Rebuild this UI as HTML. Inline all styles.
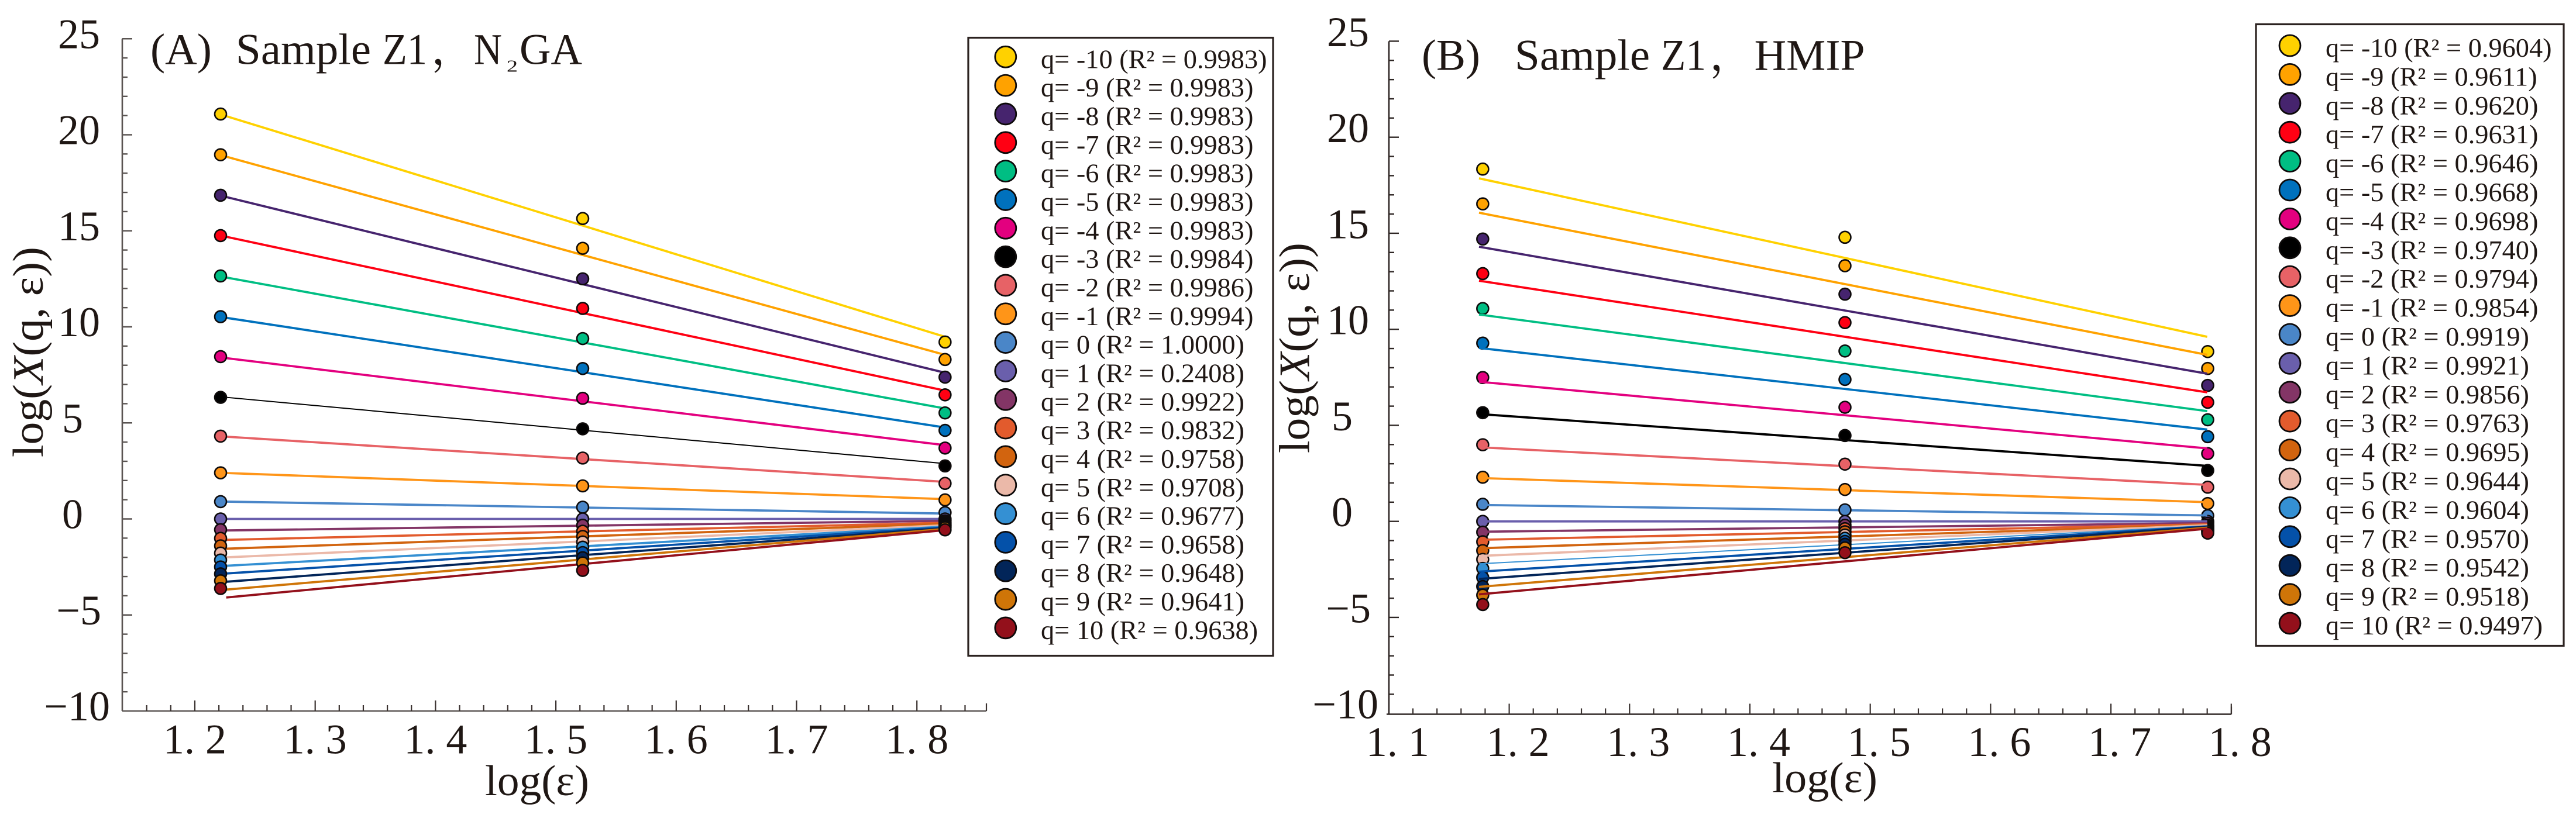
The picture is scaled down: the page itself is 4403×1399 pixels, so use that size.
<!DOCTYPE html>
<html lang="en">
<head>
<meta charset="utf-8">
<title>Multifractal partition function fits, Sample Z1</title>
<style>
html,body{margin:0;padding:0;background:#fff;}
svg{display:block;}
text{font-family:"Liberation Serif","Noto Serif CJK SC",serif;fill:#1f1714;}
</style>
</head>
<body>
<svg id="chart" xmlns="http://www.w3.org/2000/svg" width="4403" height="1399" viewBox="0 0 4403 1399"></svg>
<script>
const qValues = [-10,-9,-8,-7,-6,-5,-4,-3,-2,-1,0,1,2,3,4,5,6,7,8,9,10];
const seriesColors = ["#FFD100","#FFA200","#46246E","#FF0013","#00BE83","#0071BD","#E3007F","#000000","#E76266","#FF9518","#4A86C8","#6A5FAC","#833566","#E25B2D","#D2640F","#EBB9A9","#3490D3","#0451A9","#022559","#CF7508","#93101B"];

const yTickLabels = [25,20,15,10,5,0,-5,-10];

const xTicksA = [1.2,1.3,1.4,1.5,1.6,1.7,1.8];
const xTicksB = [1.1,1.2,1.3,1.4,1.5,1.6,1.7,1.8];

const logEpsA = [1.2214,1.5223,1.8234];
const logEpsB = [1.178,1.479,1.7804];

const pointsA1 = [21.08,18.96,16.85,14.75,12.65,10.53,8.45,6.33,4.31,2.40,0.90,0,-0.56,-1.01,-1.40,-1.78,-2.14,-2.50,-2.86,-3.22,-3.62];
const pointsA2 = [15.64,14.09,12.50,10.96,9.39,7.83,6.28,4.69,3.17,1.72,0.61,0,-0.33,-0.64,-0.91,-1.20,-1.47,-1.75,-2.02,-2.29,-2.68];
const pointsA3 = [9.21,8.30,7.38,6.46,5.52,4.61,3.69,2.76,1.85,0.99,0.33,0,-0.10,-0.18,-0.25,-0.30,-0.33,-0.37,-0.41,-0.46,-0.57];

const fitStartA = [20.97,18.86,16.76,14.69,12.57,10.47,8.37,6.33,4.28,2.39,0.90,0,-0.60,-1.09,-1.55,-2.00,-2.44,-2.84,-3.27,-3.68,-4.09];
const fitEndA = [9.48,8.54,7.61,6.68,5.75,4.76,3.84,2.88,1.93,1.03,0.28,0,-0.10,-0.20,-0.26,-0.33,-0.40,-0.44,-0.48,-0.52,-0.58];

const pointsB1 = [18.34,16.53,14.70,12.90,11.08,9.28,7.49,5.66,3.99,2.30,0.89,0,-0.56,-1.06,-1.52,-1.98,-2.45,-2.92,-3.39,-3.84,-4.33];
const pointsB2 = [14.79,13.31,11.83,10.35,8.87,7.39,5.94,4.47,2.98,1.66,0.60,0,-0.20,-0.38,-0.54,-0.71,-0.88,-1.04,-1.19,-1.38,-1.63];
const pointsB3 = [8.84,7.96,7.08,6.20,5.29,4.41,3.53,2.65,1.78,0.93,0.30,0,-0.10,-0.20,-0.26,-0.32,-0.38,-0.43,-0.48,-0.53,-0.61];

const fitStartB = [17.86,16.07,14.30,12.53,10.77,9.03,7.27,5.59,3.86,2.26,0.855,0,-0.54,-0.96,-1.40,-1.80,-2.21,-2.62,-3.00,-3.41,-3.80];
const fitEndB = [9.61,8.67,7.69,6.72,5.74,4.78,3.80,2.89,1.90,1.00,0.31,0,-0.09,-0.15,-0.18,-0.20,-0.23,-0.26,-0.28,-0.33,-0.38];

const rSquaredA = ["0.9983","0.9983","0.9983","0.9983","0.9983","0.9983","0.9983","0.9984","0.9986","0.9994","1.0000","0.2408","0.9922","0.9832","0.9758","0.9708","0.9677","0.9658","0.9648","0.9641","0.9638"];
const rSquaredB = ["0.9604","0.9611","0.9620","0.9631","0.9646","0.9668","0.9698","0.9740","0.9794","0.9854","0.9919","0.9921","0.9856","0.9763","0.9695","0.9644","0.9604","0.9570","0.9542","0.9518","0.9497"];

const NS = "http://www.w3.org/2000/svg";
const root = document.getElementById("chart");

function make(tag, attrs, parent){
  const n = document.createElementNS(NS, tag);
  for (const k in attrs) n.setAttribute(k, attrs[k]);
  parent.appendChild(n);
  return n;
}
function xAxisFn(origin){ return function(v){ return origin + 2057 * (v - 1.2); }; }
function yAxisFn(origin){ return function(v){ return origin - 32.85 * v; }; }
function labelFor(v){ return v < 0 ? "\u2212" + Math.abs(v) : String(v); }

function drawYAxis(g, cfg, X, Y){
  const axis = make("line", {x1:cfg.axisX, y1:Y(25), x2:cfg.axisX, y2:cfg.axisY, stroke:cfg.axisColor, "stroke-width":2.6}, g);
  
  
  for (let v = -9; v <= 25; v++){
    const major = v % 5 === 0;
    const t = make("line", {x1:cfg.axisX, y1:Y(v), x2:cfg.axisX + (major ? 17 : 9), y2:Y(v), stroke:cfg.axisColor, "stroke-width":2.4}, g);
    
    
  }
  yTickLabels.forEach(function(v){
    const right = v >= 10 ? cfg.labelRight : v >= 0 ? cfg.labelRightSmall : v === -5 ? cfg.labelRightM5 : cfg.labelRightM10;
    const t = make("text", {x:right, y:Y(v) + cfg.yLabelDy, "text-anchor":"end", "font-size":72}, g);
    t.textContent = labelFor(v);
    
    
  });
}

function drawXAxis(g, cfg, X, labels){
  const axis = make("line", {x1:cfg.xAxisStart, y1:cfg.axisY, x2:cfg.axisEnd, y2:cfg.axisY, stroke:cfg.axisColor, "stroke-width":2.6}, g);
  
  
  for (let i = 0; ; i++){
    const v = cfg.xMin + i * 0.02;
    if (X(v) > cfg.axisEnd + 1) break;
    const major = Math.abs(v * 10 - Math.round(v * 10)) < 1e-6;
    if (i === 0) continue;
    const t = make("line", {x1:X(v), y1:cfg.axisY, x2:X(v), y2:cfg.axisY - (major ? 18 : 10), stroke:"#3a3230", "stroke-width":2.2}, g);
    
    
  }
  if (cfg.endCap){
    const c = make("line", {x1:cfg.axisEnd, y1:cfg.axisY, x2:cfg.axisEnd, y2:cfg.axisY - 13, stroke:"#3a3230", "stroke-width":2.2}, g);
    
    
  }
  labels.forEach(function(v){
    const t = make("text", {x:X(v) + cfg.xLabelDx, y:cfg.xLabelY, "text-anchor":"middle", "font-size":72}, g);
    t.textContent = v.toFixed(1).replace(".", ". ");
    t.setAttribute("xml:space", "preserve");
    
    
  });
}

function drawTitles(g, cfg){
  const xt = make("text", {x:cfg.xTitleX, y:cfg.xTitleY, "font-size":74, textLength:cfg.xTitleLen, lengthAdjust:"spacingAndGlyphs"}, g);
  xt.textContent = "log(\u03B5)";
  
  

  const yt = make("text", {transform:"translate(" + cfg.yTitleX + "," + cfg.yTitleY + ") rotate(-90)", "font-size":74, textLength:360, lengthAdjust:"spacingAndGlyphs"}, g);
  
  
  const a = make("tspan", {}, yt);
  a.textContent = "log(";
  const b = make("tspan", {"font-style":"italic"}, yt);
  b.textContent = "X";
  const c = make("tspan", {}, yt);
  c.textContent = "(q, \u03B5))";

  const tg = make("g", {}, g);
  
  
  cfg.titleParts.forEach(function(p){
    const attrs = {x:p[1], y:cfg.titleY + (p[4] || 0), "font-size":p[3] || 75};
    if (p[2]) { attrs.textLength = p[2]; attrs.lengthAdjust = "spacingAndGlyphs"; }
    const t = make("text", attrs, tg);
    t.textContent = p[0];
  });
}

function marker(g, x, y, r, i, name){
  const c = make("ellipse", {cx:x, cy:y, rx:r, ry:r, fill:seriesColors[i], stroke:"#0d0a0a", "stroke-width":r > 12 ? 2.8 : 2.6}, g);
  
  
}
function fitLine(g, x1, y1, x2, y2, i, w){
  const l = make("line", {x1:x1, y1:y1, x2:x2, y2:y2, stroke:seriesColors[i], "stroke-width":w}, g);
  
  
}

function drawSeries(g, cfg, X, Y){
  const xs = cfg.logEps, pts = cfg.points;
  function widthOf(i){ return qValues[i] === cfg.thinQ ? 2 : 3.8; }
  function lines(){
    qValues.forEach(function(q, i){
      fitLine(g, X(cfg.fitFrom), Y(cfg.fitStart[i]), X(cfg.fitTo), Y(cfg.fitEnd[i]), i, widthOf(i));
    });
  }
  function col(k){
    qValues.forEach(function(q, i){
      marker(g, X(xs[k]), Y(pts[k][i]), 10, i, "point-q" + q + "-" + (k + 1));
    });
  }
  if (cfg.linesOverOuter){
    col(0); col(2); lines(); col(1);
  } else {
    lines(); col(0); col(1); col(2);
  }
}

function drawLegend(cfg, rValues){
  const g = make("g", {}, root);
  
  
  const box = make("rect", {x:cfg.box[0], y:cfg.box[1], width:cfg.box[2] - cfg.box[0], height:cfg.box[3] - cfg.box[1], fill:"#fff", stroke:"#2b2220", "stroke-width":3.2}, g);
  
  
  qValues.forEach(function(q, i){
    const cy = cfg.legendY0 + cfg.legendStep * i;
    marker(g, cfg.legendMarkerX, cy, 18, i, "legend-marker-q" + q);
    const t = make("text", {transform:"translate(" + cfg.legendTextX + "," + (cy + cfg.legendTextDy) + ") scale(" + cfg.legendScale + ",1)", "font-size":cfg.legendFont}, g);
    t.textContent = "q= " + q + " (R\u00B2 = " + rValues[i] + ")";
    
    
  });
}

const panelA = {
  name:"panel-a", legendName:"legend-a", axisX:209, axisY:1216, axisEnd:1686, xAxisStart:209, xMin:1.14, endCap:true,
  axisColor:"#5a5452", labelRight:171, labelRightSmall:142, labelRightM5:173, labelRightM10:188, yLabelDy:16,
  xLabelDx:0, xLabelY:1288.5, xTitleX:829, xTitleY:1360, xTitleLen:178, yTitleX:73, yTitleY:782,
  titleY:109.5,
  titleParts:[["(A)",257,105],["Sample",403,231],["Z1",654,76],["\uFF0C",737,0],["N",810,48],["2",866,19,28,13],["GA",888,107]],
  logEps:logEpsA, points:[pointsA1,pointsA2,pointsA3], fitStart:fitStartA, fitEnd:fitEndA, fitFrom:1.2261, fitTo:1.8234, thinQ:-3,
  linesOverOuter:false,
  box:[1655,64.5,2176,1121.5], legendY0:97.3, legendStep:48.83, legendMarkerX:1718.8, legendTextX:1779, legendTextDy:19, legendScale:1.03, legendFont:45
};
const panelB = {
  name:"panel-b", legendName:"legend-b", axisX:2374, axisY:1221.5, axisEnd:3814, xAxisStart:2370, xMin:1.1, endCap:true,
  axisColor:"#2f2725", labelRight:2340, labelRightSmall:2312, labelRightM5:2343, labelRightM10:2356, yLabelDy:8.5,
  xLabelDx:15, xLabelY:1293, xTitleX:3029, xTitleY:1355, xTitleLen:180, yTitleX:2237.5, yTitleY:775,
  titleY:119.5,
  titleParts:[["(B)",2430,100],["Sample",2589,231],["Z1",2839,77],["\uFF0C",2922,0],["HMIP",2998.6,189]],
  logEps:logEpsB, points:[pointsB1,pointsB2,pointsB3], fitStart:fitStartB, fitEnd:fitEndB, fitFrom:1.1749, fitTo:1.78, thinQ:6,
  linesOverOuter:true,
  box:[3856,41.5,4382,1104.5], legendY0:78, legendStep:49.4, legendMarkerX:3914, legendTextX:3975, legendTextDy:19, legendScale:1.03, legendFont:45
};

function drawPanel(cfg, origin0X, origin0Y, xLabels, rValues){
  const X = xAxisFn(origin0X), Y = yAxisFn(origin0Y);
  const g = make("g", {}, root);
  
  
  drawSeries(g, cfg, X, Y);
  drawYAxis(g, cfg, X, Y);
  drawXAxis(g, cfg, X, xLabels);
  drawTitles(g, cfg);
  drawLegend(cfg, rValues);
}

make("rect", {x:0, y:0, width:4403, height:1399, fill:"#ffffff"}, root);
drawPanel(panelA, 333, 887.5, xTicksA, rSquaredA);
drawPanel(panelB, 2579.6, 891.7, xTicksB, rSquaredB);
</script>
</body>
</html>
